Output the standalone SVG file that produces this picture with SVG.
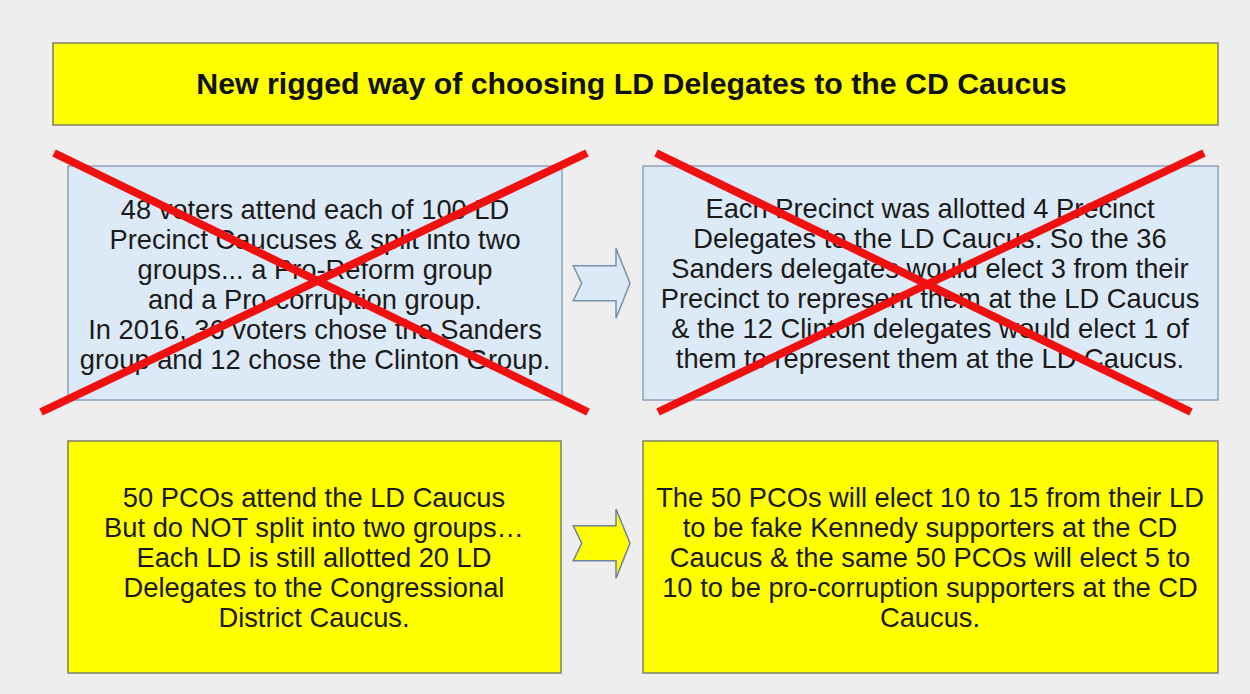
<svg xmlns="http://www.w3.org/2000/svg" width="1250" height="694" viewBox="0 0 1250 694">
<style>
.bg{fill:#eeeeee}
.yel{fill:#ffff00;stroke:#7f7f6a;stroke-width:1.5}
.blue{fill:#dceaf8;stroke:#7890aa;stroke-width:1.2}
.t{font-family:"Liberation Sans",Arial,sans-serif;font-size:27.3px;fill:#1a1a1a;text-anchor:middle}
.title{font-family:"Liberation Sans",Arial,sans-serif;font-size:30.3px;font-weight:bold;fill:#111;text-anchor:middle}
.x{stroke:#f01010;stroke-width:8;stroke-linecap:butt}
.arB{fill:#dceaf8;stroke:#7890aa;stroke-width:1.5;stroke-linejoin:miter}
.arY{fill:#ffff00;stroke:#6f7f9f;stroke-width:1.5;stroke-linejoin:miter}
</style>
<rect class="bg" x="0" y="0" width="1250" height="694"/>
<g id="title">
<rect class="yel" x="53" y="43" width="1165" height="82"/>
<text class="title" x="631.5" y="94">New rigged way of choosing LD Delegates to the CD Caucus</text>
</g>
<g id="box-tl">
<rect class="blue" x="68" y="166" width="494" height="234"/>
<text class="t" x="315" y="219">48 voters attend each of 100 LD</text>
<text class="t" x="315" y="249">Precinct Caucuses &amp; split into two</text>
<text class="t" x="315" y="279">groups... a Pro-Reform group</text>
<text class="t" x="315" y="309">and a Pro-corruption group.</text>
<text class="t" x="315" y="339">In 2016, 36 voters chose the Sanders</text>
<text class="t" x="315" y="369">group and 12 chose the Clinton Group.</text>
</g>
<g id="box-tr">
<rect class="blue" x="643" y="166" width="575" height="234"/>
<text class="t" x="930" y="218">Each Precinct was allotted 4 Precinct</text>
<text class="t" x="930" y="248">Delegates to the LD Caucus. So the 36</text>
<text class="t" x="930" y="278">Sanders delegates would elect 3 from their</text>
<text class="t" x="930" y="308">Precinct to represent them at the LD Caucus</text>
<text class="t" x="930" y="338">&amp; the 12 Clinton delegates would elect 1 of</text>
<text class="t" x="930" y="368">them to represent them at the LD Caucus.</text>
</g>
<g id="box-bl">
<rect class="yel" x="68" y="441" width="493" height="232"/>
<text class="t" x="314" y="507">50 PCOs attend the LD Caucus</text>
<text class="t" x="314" y="537">But do NOT split into two groups…</text>
<text class="t" x="314" y="567">Each LD is still allotted 20 LD</text>
<text class="t" x="314" y="597">Delegates to the Congressional</text>
<text class="t" x="314" y="627">District Caucus.</text>
</g>
<g id="box-br">
<rect class="yel" x="643" y="441" width="575" height="232"/>
<text class="t" x="930" y="507">The 50 PCOs will elect 10 to 15 from their LD</text>
<text class="t" x="930" y="537">to be fake Kennedy supporters at the CD</text>
<text class="t" x="930" y="567">Caucus &amp; the same 50 PCOs will elect 5 to</text>
<text class="t" x="930" y="597">10 to be pro-corruption supporters at the CD</text>
<text class="t" x="930" y="627">Caucus.</text>
</g>
<g id="cross-tl">
<line class="x" x1="54" y1="153" x2="588" y2="412"/>
<line class="x" x1="587" y1="153" x2="41" y2="412"/>
</g>
<g id="cross-tr">
<line class="x" x1="656" y1="153" x2="1191" y2="412"/>
<line class="x" x1="1204" y1="153" x2="658" y2="412"/>
</g>
<g id="connectors">
<polygon class="arB" points="573.3,265.7 616,265.7 616,248.3 630,283.3 616,318.3 616,300.7 573.3,300.7 581.7,283.3"/>
<polygon class="arY" points="573.3,525.7 616,525.7 616,509 630,543.3 616,578.3 616,560.7 573.3,560.7 581.7,543.3"/>
</g>
</svg>
